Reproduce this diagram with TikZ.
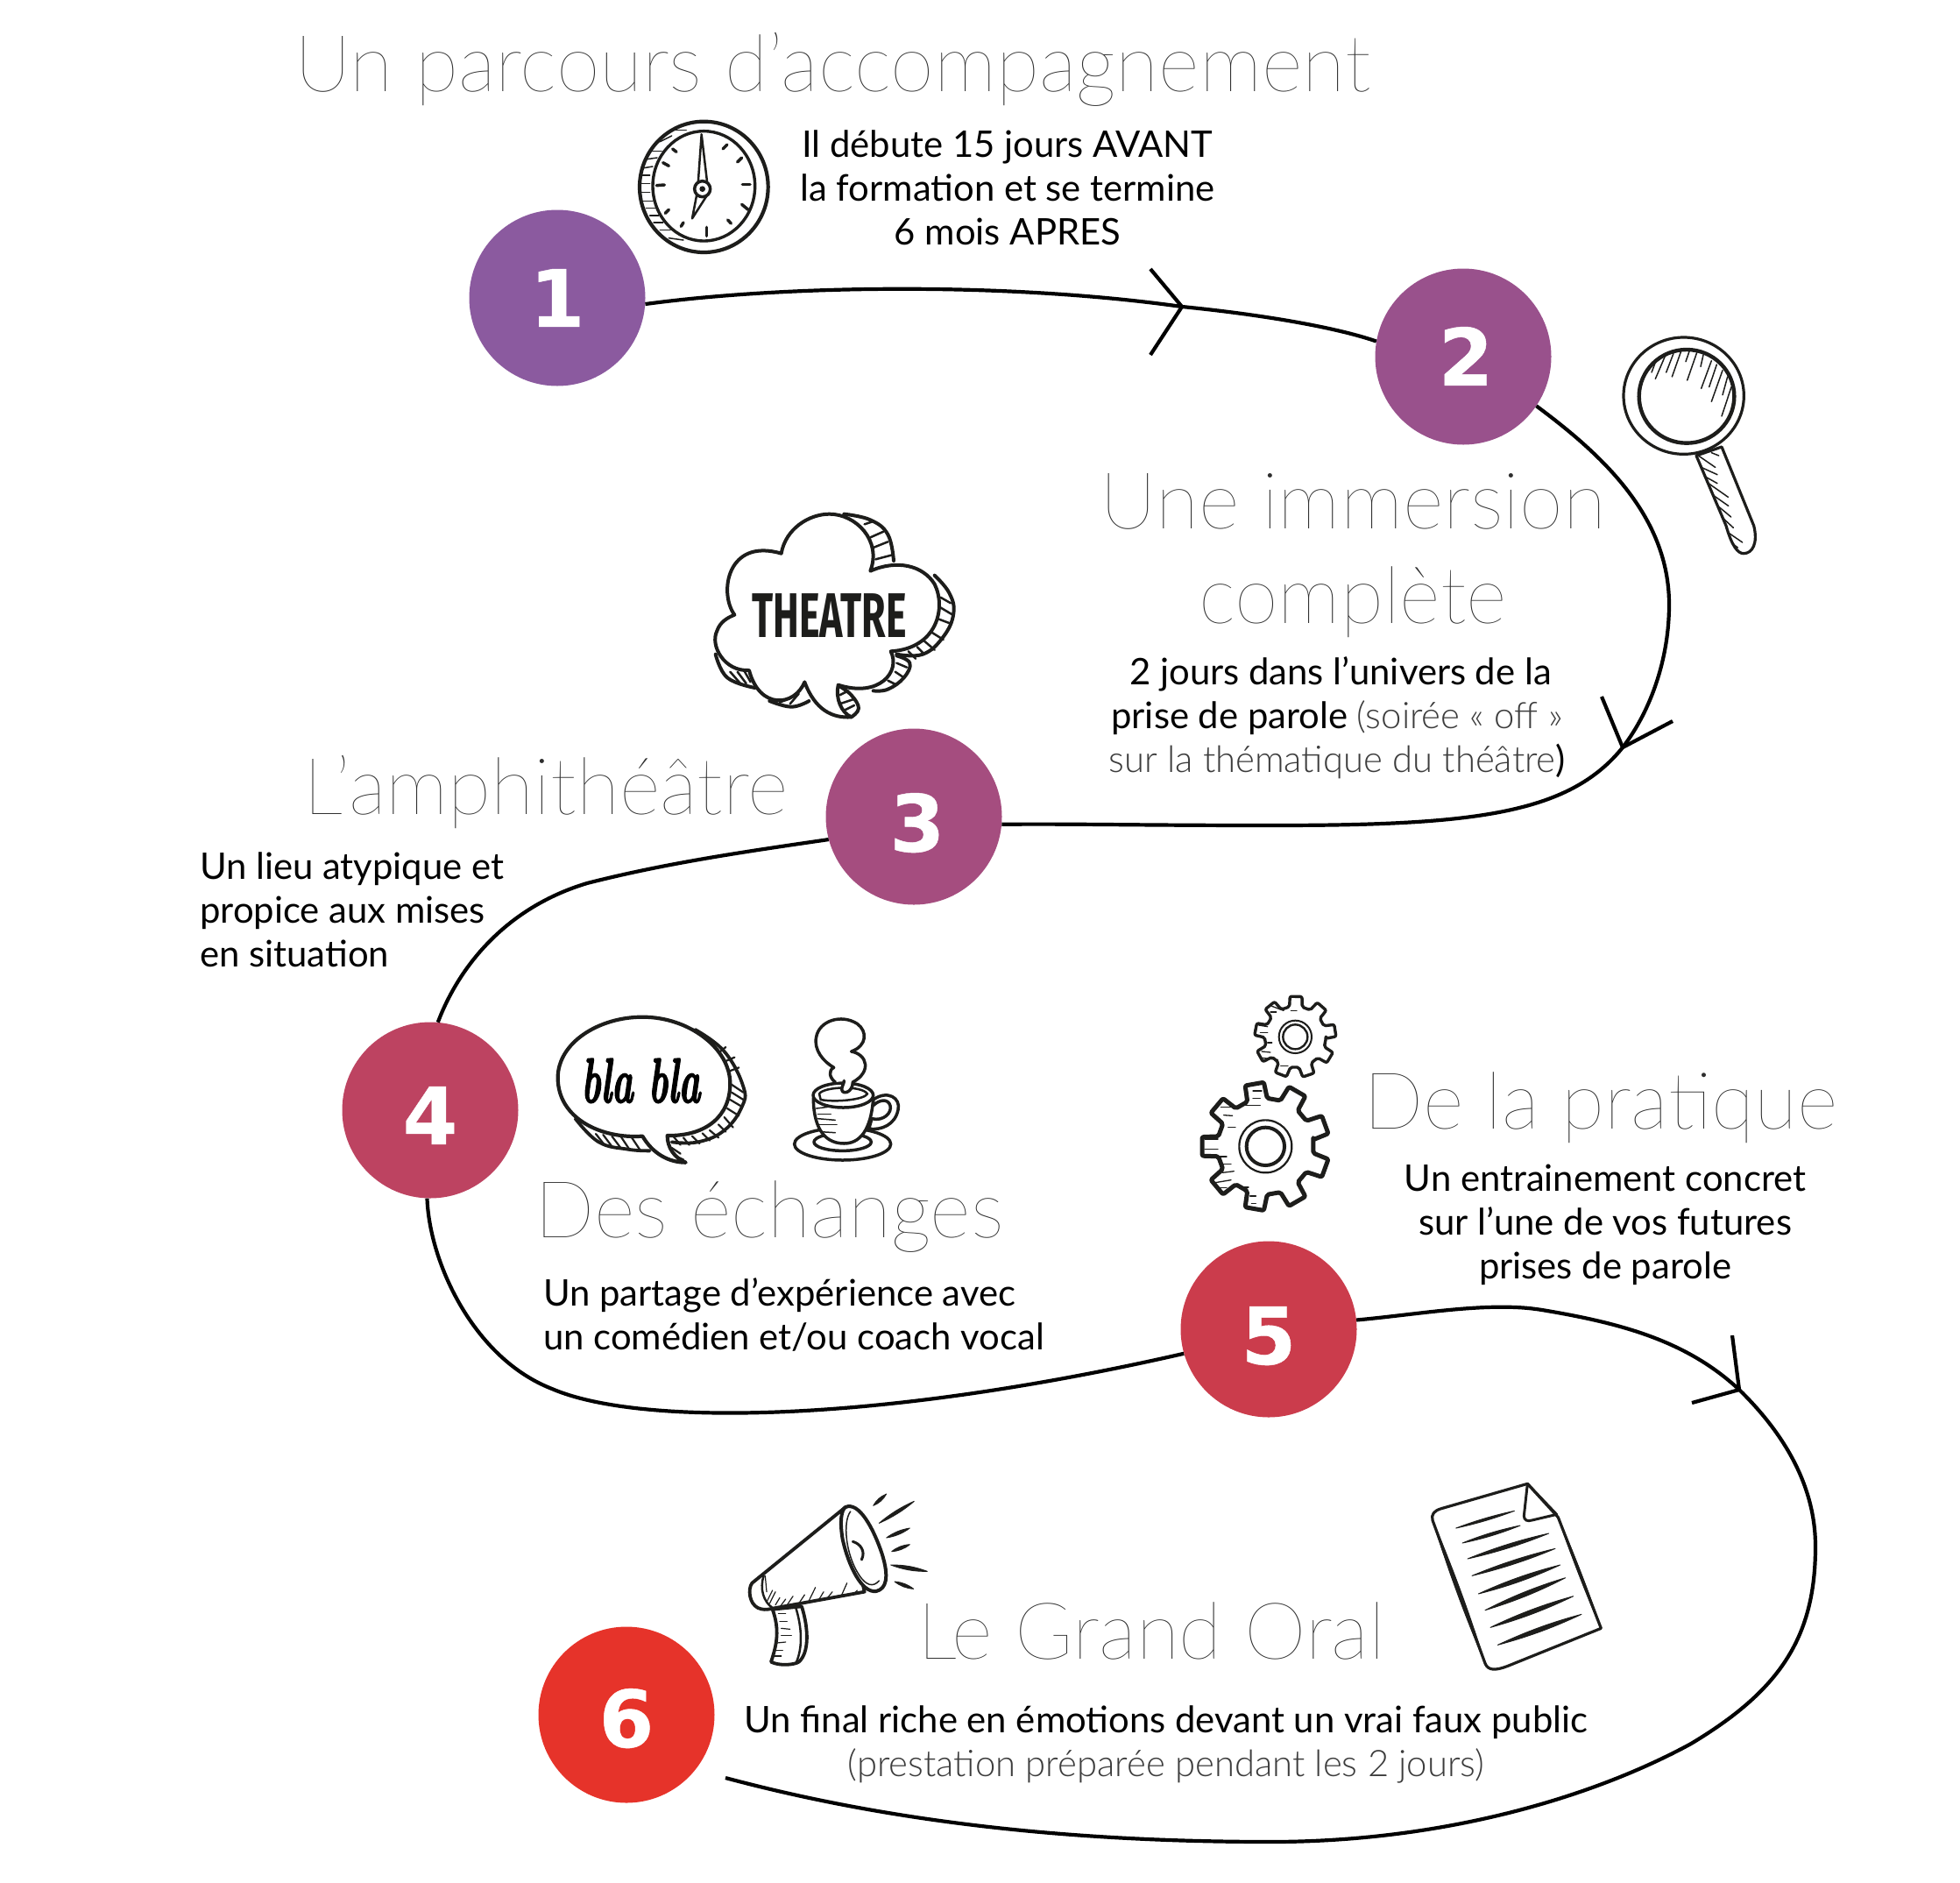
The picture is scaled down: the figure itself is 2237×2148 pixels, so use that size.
\documentclass[tikz,border=0pt]{standalone}
\usepackage{fontspec}
\usetikzlibrary{calc}
\setmainfont{Lato}
\newfontfamily\lgt{Lato Light}
\newfontfamily\hair{Lato Hairline}
\newfontfamily\digit[FakeBold=0.5]{DejaVu Sans Bold}
\newfontfamily\fira{Fira Sans}
\newfontfamily\lmit[BoldItalicFeatures={FakeBold=2.5}]{Latin Modern Roman}
\definecolor{cA}{HTML}{8B5A9F}
\definecolor{cB}{HTML}{99518C}
\definecolor{cC}{HTML}{A54D7F}
\definecolor{cD}{HTML}{BD4361}
\definecolor{cE}{HTML}{CB3C4C}
\definecolor{cF}{HTML}{E6332A}
\definecolor{ink}{HTML}{1D1D1B}
\definecolor{soft}{HTML}{3C3C3C}
\definecolor{titlec}{HTML}{2E2E2E}
\tikzset{
 num/.style={circle,minimum size=201pt,inner sep=0,text=white,font={\digit\fontsize{90}{90}\selectfont}},
 ttl/.style={inner sep=0,anchor=base,text=titlec,font={\hair\fontsize{90}{90}\selectfont}},
 body/.style={inner sep=0,anchor=base,text=black,font={\fontsize{41.8}{50}\selectfont}},
 thintxt/.style={inner sep=0,anchor=base,text=soft,font={\lgt\fontsize{41.8}{50}\selectfont}},
 route/.style={line width=4.2pt,black},
 chev/.style={line width=4.2pt,black},
 zoomed/.style 2 args={shift={(#1,#2)},x=.33333pt,y=-.33333pt},
 ol/.style={draw=ink,line width=#1,line join=round,line cap=round},
 ol/.default=3.5pt,
 hatch/.style={draw=ink,line width=1.5pt,line cap=round},
}
\newcommand{\dg}[2]{\raisebox{\dimexpr-32.8pt-#1pt\relax}[0pt][0pt]{#2}}
\newcommand{\gearpath}[3]{% startangle, root r, stroke
 \draw[ol=#3pt,fill=white,rounded corners=2pt] (#1-12:#2) \foreach \k in {0,...,8}{
   \pgfextra{\pgfmathsetmacro{\a}{#1+40*\k}}
   -- (\a-12:#2) -- (\a-8.5:#2*1.33) -- (\a+8.5:#2*1.33) -- (\a+12:#2) } -- cycle;
}
% tapered ink stroke between two points; #3 = bulge
\newcommand{\taper}[3]{%
 \fill[ink,draw=ink,line width=.9pt,line join=round] (#1) .. controls ($(#1)!.35!(#2)!#3!90:(#2)$) and ($(#1)!.65!(#2)!#3!90:(#2)$) .. (#2) .. controls ($(#1)!.65!(#2)!#3!-90:(#2)$) and ($(#1)!.35!(#2)!#3!-90:(#2)$) .. (#1) -- cycle;
}
\begin{document}
\begin{tikzpicture}[x=1pt,y=-1pt]
\useasboundingbox (0,0) rectangle (2237,2148);

% step circles
\node[num,fill=cA] (n1) at (636,340) {\dg{0}{1}};
\node[num,fill=cB] (n2) at (1670,407) {\kern6pt\dg{0}{2}};
\node[num,fill=cC] (n3) at (1043,932) {\kern8pt\dg{7}{3}};
\node[num,fill=cD] (n4) at (491,1267) {\dg{6}{4}};
\node[num,fill=cE] (n5) at (1448,1517) {\dg{7}{5}};
\node[num,fill=cF] (n6) at (715,1957) {\dg{4}{6}};
\coordinate (a1) at (1349,350);
\coordinate (a2) at (1852,853);
\coordinate (a3) at (1985,1586);
\coordinate (endroute) at (828,2029);
\coordinate (t1a) at (1313,307);\coordinate (t1b) at (1313,405);
\coordinate (t2a) at (1828,795);\coordinate (t2b) at (1909,823);
\coordinate (t3a) at (1977,1524);\coordinate (t3b) at (1931,1601);

% connectors
\draw[route] (n1.-4) .. controls (900,325) and (1150,322) .. (a1) .. controls (1430,358) and (1520,372) .. (n2.170);
\draw[route] (n2.-34) .. controls (1830,520) and (1905,590) .. (1905,690) .. controls (1905,750) and (1885,810) .. (a2) .. controls (1790,930) and (1680,942) .. (1450,942) .. controls (1300,942) and (1230,940) .. (n3.-5);
\draw[route] (n3.195) .. controls (850,972) and (760,985) .. (670,1008) .. controls (580,1035) and (525,1100) .. (n4.85);
\draw[route] (n4.-92) .. controls (490,1440) and (540,1550) .. (630,1585) .. controls (730,1628) and (1000,1625) .. (n5.196);
\draw[route] (n5.6) .. controls (1620,1500) and (1700,1485) .. (1760,1495) .. controls (1850,1510) and (1925,1530) .. (a3) .. controls (2030,1630) and (2072,1690) .. (2072,1765) .. controls (2072,1870) and (2030,1930) .. (1930,1990) .. controls (1820,2050) and (1650,2102) .. (1450,2102) .. controls (1200,2102) and (1000,2075) .. (endroute);
\draw[chev] (t1a) -- (a1) -- (t1b);
\draw[chev] (t2a) -- (a2) -- (t2b);
\draw[chev] (t3a) -- (a3) -- (t3b);

% titles
\node[ttl] (tt1) at (950,104) {Un parcours d’accompagnement};
\node[ttl] (tt2) at (1544,603) {Une immersion};
\node[ttl] (tt2b) at (1544,711) {complète};
\node[ttl] (tt3) at (623,929) {L’amphithéâtre};
\node[ttl] (tt4) at (878,1412) {Des échanges};
\node[ttl] (tt5) at (1827,1288) {De la pratique};
\node[ttl] (tt6) at (1314,1893) {Le Grand Oral};

% body
\node[body] (b1a) at (1150,179) {Il débute 15 jours AVANT};
\node[body] (b1b) at (1150,229) {la formation et se termine};
\node[body] (b1c) at (1150,279) {6 mois APRES};
\node[body] (b2a) at (1530,781) {2 jours dans l’univers de la};
\node[body] (b2b) at (1526,831) {prise de parole {\lgt\color{soft}(soirée « off »}};
\node[thintxt] (b2c) at (1526,881) {sur la thématique du théâtre{\normalfont\color{black})}};
\node[body,anchor=base west] (b3a) at (228,1003) {Un lieu atypique et};
\node[body,anchor=base west] (b3b) at (228,1053) {propice aux mises};
\node[body,anchor=base west] (b3c) at (228,1103) {en situation};
\node[body,anchor=base west] (b4a) at (620,1490) {Un partage d’expérience avec};
\node[body,anchor=base west] (b4b) at (620,1540) {un comédien et/ou coach vocal};
\node[body] (b5a) at (1832,1359) {Un entrainement concret};
\node[body] (b5b) at (1832,1409) {sur l’une de vos futures};
\node[body] (b5c) at (1832,1459) {prises de parole};
\node[body] (b6a) at (1331,1977) {Un final riche en émotions devant un vrai faux public};
\node[thintxt] (b6b) at (1331,2027) {(prestation préparée pendant les 2 jours)};

% clock
\begin{scope}[zoomed={700}{120}]
\draw[ol=4.2pt,fill=white] (310,280) ellipse (220 and 224);
\draw[ol=3.4pt,fill=white] (310,277) ellipse (175 and 188);
\foreach \p/\q in {{195,85}/{250,85},{160,125}/{200,105},{130,157}/{165,157},{115,185}/{150,180},{105,215}/{135,210},{100,240}/{125,240},{92,268}/{125,268},{92,298}/{125,298},{102,328}/{135,328},{112,352}/{145,352},{125,378}/{155,378},{138,402}/{170,402},{160,428}/{195,428},{190,455}/{240,462}}
  \draw[hatch] (\p) -- (\q);
\foreach \p/\q in {{375,150}/{390,135},{425,195}/{440,180},{442,272}/{468,272},{440,340}/{462,358},{392,393}/{403,405},{320,418}/{320,448},{232,415}/{240,402},{178,370}/{190,358},{148,275}/{175,273},{170,197}/{190,208},{203,150}/{216,160}}
  \draw[ol=3.5pt] (\p) -- (\q);
\draw[ol=2.5pt,fill=white] (290,270) -- (302,100) -- (322,270);
\draw[ol=2.5pt,fill=white] (285,310) -- (270,388) -- (320,310);
\draw[ol=3.5pt,fill=white] (305,287) circle (27);
\fill[ink] (305,287) circle (10);
\end{scope}

% magnifier
\begin{scope}[zoomed={1830}{370}]
\draw[ol=3.2pt,fill=white] (318,450) -- (420,690) .. controls (440,760) and (460,785) .. (480,785) .. controls (510,785) and (530,750) .. (515,690) -- (405,420) -- cycle;
\draw[ol=3.2pt,fill=white] (275,245) ellipse (206 and 200);
\draw[ol=4.4pt,fill=white] (285,247) ellipse (163 and 160);
\foreach \p/\q in {{165,165}/{180,125},{178,187}/{213,105},{215,165}/{240,100},{235,180}/{265,95},{282,128}/{295,90},{287,192}/{320,97},{333,145}/{342,105},{335,220}/{370,125},{362,215}/{388,138},{370,265}/{408,158},{408,242}/{425,180},{405,315}/{438,215},{370,440}/{395,450},{328,452}/{383,490},{335,490}/{390,515},{345,520}/{390,545},{360,545}/{427,592},{375,585}/{428,622},{395,625}/{437,660},{405,660}/{445,697},{425,712}/{476,747},{440,750}/{460,765}}
  \draw[hatch] (\p) -- (\q);
\end{scope}

% theatre bubble
\begin{scope}[zoomed={790}{570}]
\draw[ol=4pt] plot[smooth,tension=.7] coordinates {(520,50)(610,70)(670,120)(690,210)};
\draw[ol=4pt] plot[smooth,tension=.7] coordinates {(830,260)(880,320)(895,390)(860,470)(790,530)(700,530)};
\draw[ol=4pt] plot[smooth,tension=.7] coordinates {(700,535)(745,560)(725,610)(670,650)(620,655)};
\draw[ol=4pt] plot[smooth,tension=.7] coordinates {(505,640)(545,670)(570,715)(545,745)};
\draw[ol=4pt] plot[smooth,tension=.7] coordinates {(265,690)(340,710)(400,690)};
\draw[ol=4pt] plot[smooth,tension=.7] coordinates {(80,530)(120,610)(215,645)};
\foreach \p/\q in {{590,85}/{620,75},{610,130}/{655,110},{620,165}/{670,145},{628,205}/{685,190},{850,335}/{885,355},{850,370}/{892,395},{845,410}/{885,425},{820,455}/{860,480},{795,485}/{830,515},{770,505}/{795,530},{740,520}/{765,545},{700,560}/{735,575},{695,590}/{725,610},{670,620}/{700,635},{505,670}/{535,655},{505,700}/{550,685},{515,725}/{555,705},{300,695}/{335,680},{335,700}/{365,665},{130,590}/{165,630},{155,590}/{185,630},{180,590}/{200,625}}
  \draw[ol=2.5pt] (\p) -- (\q);
\draw[ol=4pt,fill=white]
 (305,185) .. controls (320,100) and (400,50) .. (470,50) .. controls (560,50) and (650,140) .. (610,245)
 .. controls (700,205) and (790,225) .. (830,290) .. controls (870,370) and (840,510) .. (680,520)
 .. controls (715,590) and (640,680) .. (500,635) .. controls (490,680) and (510,730) .. (545,745)
 .. controls (480,750) and (420,720) .. (385,625) .. controls (350,710) and (230,720) .. (195,585)
 .. controls (110,590) and (60,500) .. (85,450) .. controls (95,420) and (120,405) .. (145,395)
 .. controls (90,320) and (120,130) .. (305,185) -- cycle;
\node[inner sep=0,xscale=.62,font={\fira\bfseries\fontsize{72}{72}\selectfont},text=ink] (theatre) at (470,398) {THEATRE};
\end{scope}

% bla bubble
\begin{scope}[zoomed={620}{1140}]
\draw[ol=3.8pt] plot[smooth,tension=.7] coordinates {(520,105)(620,180)(685,300)(680,370)(620,450)(530,490)(440,490)};
\draw[ol=3.8pt] plot[smooth,tension=.7] coordinates {(110,410)(190,490)(290,515)(365,520)};
\foreach \p/\q in {{600,185}/{625,165},{620,215}/{655,200},{630,250}/{670,235},{640,290}/{685,320},{645,320}/{685,345},{640,345}/{682,370},{630,375}/{670,400},{620,405}/{650,440},{600,430}/{625,455},{570,450}/{600,475},{545,460}/{570,485},{510,470}/{535,495},{480,475}/{500,500},{445,470}/{470,500},{180,462}/{210,500},{205,465}/{235,505},{235,470}/{265,510},{265,470}/{295,515},{300,470}/{330,515},{440,510}/{470,530},{445,535}/{480,550}}
  \draw[ol=2.2pt] (\p) -- (\q);
\draw[ol=4.2pt,fill=white]
 (340,470) .. controls (200,480) and (50,410) .. (50,270) .. controls (50,150) and (190,62) .. (340,62)
 .. controls (500,62) and (640,170) .. (640,290) .. controls (640,400) and (560,470) .. (425,468)
 .. controls (425,510) and (450,545) .. (488,560) .. controls (430,560) and (375,530) .. (340,470) -- cycle;
\node[inner sep=0,xscale=.58,font={\lmit\bfseries\itshape\fontsize{72}{72}\selectfont},text=black] (bla) at (334,280) {bla bla};
\end{scope}

% cup
\begin{scope}[zoomed={620}{1140}]
\draw[ol=3.5pt,fill=white] (1025,497) ellipse (165 and 55);
\draw[ol=3.5pt,fill=white] (1025,490) ellipse (98 and 30);
\draw[ol=3.5pt,fill=white] (1130,345) .. controls (1180,310) and (1225,340) .. (1215,380) .. controls (1205,430) and (1160,450) .. (1115,445) -- (1125,410) .. controls (1165,420) and (1195,390) .. (1188,365) .. controls (1180,340) and (1150,345) .. (1130,365) -- cycle;
\draw[ol=3.5pt,fill=white] (925,340) .. controls (925,420) and (950,495) .. (1030,495) .. controls (1100,495) and (1125,420) .. (1130,340) -- cycle;
\draw[ol=3.5pt,fill=white] (1027,330) ellipse (103 and 42);
\draw[ol=2.5pt] (945,325) .. controls (960,300) and (1090,295) .. (1110,325) .. controls (1100,345) and (1000,355) .. (950,345) -- cycle;
\draw[ol=3.5pt,fill=white] (1000,285) .. controls (980,270) and (975,245) .. (995,235) .. controls (960,215) and (925,175) .. (935,130) .. controls (945,75) and (1020,50) .. (1075,85) .. controls (1110,110) and (1110,160) .. (1055,180) .. controls (1110,190) and (1125,250) .. (1060,285) .. controls (1060,320) and (1025,330) .. (1022,310) .. controls (1022,300) and (1030,290) .. (1030,280);
\foreach \p/\q in {{935,375}/{975,370},{940,395}/{985,395},{940,410}/{1000,415},{945,430}/{1005,430},{950,455}/{1000,458}}
  \draw[ol=1.5pt] (\p) -- (\q);
\end{scope}

% gears
\begin{scope}[zoomed={1350}{1120}]
\begin{scope}[shift={(385,190)},y=.33333pt]
\gearpath{9}{105}{3.4}
\draw[ol=2pt] (0,0) circle (56);
\draw[ol=2.4pt] (0,0) circle (42);
\end{scope}
\begin{scope}[shift={(283,565)},y=.33333pt]
\gearpath{20}{165}{5}
\draw[ol=2.2pt] (0,0) circle (90);
\draw[ol=4pt] (0,0) circle (65);
\end{scope}
\foreach \p/\q in {{305,85}/{345,100},{300,105}/{320,105},{290,155}/{260,150},{290,175}/{265,175},{290,210}/{305,210},{270,240}/{300,243},{270,262}/{325,268},{335,290}/{360,290},{370,100}/{390,100},{75,540}/{120,540},{75,575}/{120,575},{125,600}/{150,600},{135,625}/{165,625},{135,655}/{175,650},{105,690}/{165,680},{115,707}/{150,707},{190,705}/{225,705},{230,735}/{250,735},{235,760}/{250,760},{130,430}/{170,430},{140,458}/{170,460},{155,500}/{180,500},{240,375}/{270,375},{240,400}/{265,400},{215,425}/{265,425}}
  \draw[ol=1.3pt] (\p) -- (\q);
\end{scope}

% megaphone
\begin{scope}[zoomed={840}{1700}]
\draw[ol=3.8pt,fill=white] (125,410) .. controls (150,480) and (140,530) .. (120,590) .. controls (150,605) and (200,600) .. (215,590) .. controls (250,560) and (250,480) .. (225,400) -- cycle;
\draw[ol=2.5pt] (205,405) .. controls (225,470) and (230,540) .. (205,595);
\draw[ol=3.8pt,fill=white] (375,60) -- (55,320) .. controls (40,340) and (45,390) .. (75,405) .. controls (90,412) and (105,412) .. (125,407) -- (440,350) -- cycle;
\draw[ol=2.5pt] (95,295) .. controls (80,340) and (95,385) .. (125,405);
\draw[ol=4pt,fill=white] (375,60) .. controls (420,40) and (470,130) .. (500,220) .. controls (525,300) and (515,340) .. (480,348) .. controls (430,355) and (385,260) .. (365,170) .. controls (355,110) and (360,70) .. (375,60) -- cycle;
\draw[ol=1.5pt] (392,75) .. controls (365,110) and (375,220) .. (420,290) .. controls (445,330) and (470,335) .. (490,312);
\draw[ol=3pt] (400,178) .. controls (425,185) and (445,210) .. (430,240);
\foreach \p/\q in {{100,295}/{105,350},{125,345}/{105,385},{135,350}/{115,390},{150,370}/{135,395},{170,375}/{155,395},{195,365}/{175,395},{235,360}/{215,390},{272,335}/{250,380},{300,350}/{285,375},{330,350}/{310,375},{380,320}/{360,365},{415,345}/{405,355},{145,425}/{170,425},{150,452}/{175,452},{155,475}/{185,478},{155,500}/{190,500},{140,525}/{170,522},{135,550}/{160,550},{130,570}/{155,570}}
  \draw[ol=1.2pt] (\p) -- (\q);
\taper{470,55}{515,15}{2.4pt}
\taper{490,115}{610,40}{2.4pt}
\taper{515,165}{595,132}{2.4pt}
\taper{533,212}{595,188}{2.4pt}
\taper{530,258}{655,280}{2.8pt}
\taper{543,315}{608,340}{2.4pt}
\end{scope}

% document
\begin{scope}[zoomed={1620}{1680}]
\draw[ol=3.2pt,fill=white] (370,40) -- (75,125) .. controls (50,132) and (40,145) .. (45,165) -- (225,655) .. controls (235,680) and (260,680) .. (300,665) -- (622,535) -- (475,155) -- cycle;
\draw[ol=3pt] (370,40) -- (358,150) .. controls (358,165) and (370,170) .. (385,165) -- (470,145) -- cycle;
\taper{45,165}{225,655}{3pt}
\taper{475,155}{622,535}{2pt}
\taper{125,192}{325,133}{1.8pt}
\taper{147,243}{345,183}{2.2pt}
\taper{165,297}{443,210}{2.8pt}
\taper{180,355}{465,262}{2.8pt}
\taper{202,417}{482,318}{3.2pt}
\taper{225,473}{500,362}{3.2pt}
\taper{243,532}{527,425}{3.2pt}
\taper{268,592}{555,487}{3.2pt}
\end{scope}
\end{tikzpicture}
\end{document}
